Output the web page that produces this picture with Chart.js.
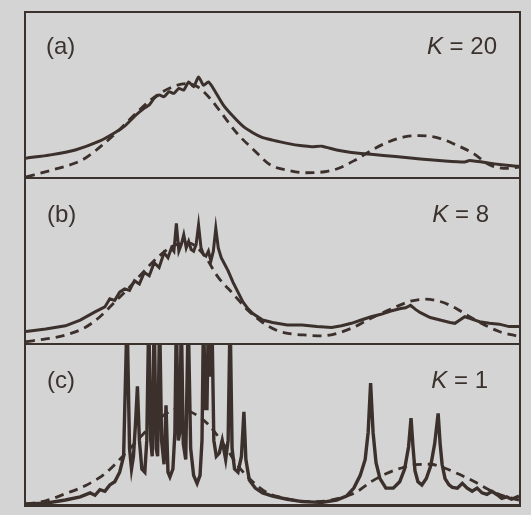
<!DOCTYPE html>
<html>
<head>
<meta charset="utf-8">
<script src="https://cdn.jsdelivr.net/npm/chart.js@4.4.1/dist/chart.umd.min.js"></script>
<style>
  html, body { margin: 0; padding: 0; background: #d4d4d4; }
  #wrap { position: relative; width: 531px; height: 515px; background: #d4d4d4; overflow: hidden; }
  #frame { position: absolute; left: 24px; top: 11px; width: 497px; height: 496px; box-sizing: border-box;
           border: 2px solid #3b322e; border-bottom-width: 3px; }
  .panel { position: absolute; left: 0; width: 493px; }
  .panel canvas { display: block; }
  #pa { top: 0; height: 164px; border-bottom: 2px solid #3b322e; }
  #pb { top: 166px; height: 164px; border-bottom: 2px solid #3b322e; }
  #pc { top: 332px; height: 159px; }
  .lab { position: absolute; font-family: "Liberation Sans", Arial, sans-serif; font-size: 24px; color: #3b322e; line-height: 1; white-space: pre; }
  .lab i { font-style: italic; }
</style>
</head>
<body>
<div id="wrap">
  <div id="frame">
    <div class="panel" id="pa"><canvas id="ca" width="493" height="164"></canvas></div>
    <div class="panel" id="pb"><canvas id="cb" width="493" height="164"></canvas></div>
    <div class="panel" id="pc"><canvas id="cc" width="493" height="159"></canvas></div>
  </div>
  <div class="lab" style="left:46px; top:34px;">(a)</div>
  <div class="lab" style="right:34px; top:34px;"><i>K</i> = 20</div>
  <div class="lab" style="left:47px; top:202px;">(b)</div>
  <div class="lab" style="right:42px; top:202px;"><i>K</i> = 8</div>
  <div class="lab" style="left:47px; top:368px;">(c)</div>
  <div class="lab" style="right:43px; top:368px;"><i>K</i> = 1</div>
</div>
<script>
// Panel labels
const panelLabels = ["(a)", "(b)", "(c)"];
const kLabels = ["K = 20", "K = 8", "K = 1"];

// Panel (a) K = 20 : solid (exact) and dashed (approximation)
const aSolidX = [0,5,10,15,18,20,22,24,25,26,27,28,29,30,31,32,33,34,35,36,37,38,40,42,44,46,48,50,53,56,58,60,63,66,70,75,80,85,89,90,95,98,100];
const aSolidY = [11.5,13.5,16.5,22,27,31,37,42,44,48,50,49,52,51,54,53,58,55,61,56,58,54,44,37,31,27,24,22.5,20.5,19,18.5,18.8,16.5,15,13.8,12.5,11,9.8,9.2,10,8,7,6.5];
const aDashX = [0,5,10,12,15.5,19,22,25.7,29,32.6,34.8,37.3,39.4,42.8,46.2,49.6,53,56.5,60.6,63.3,66.8,70.2,73.6,77,79.8,83.9,87.3,90.7,94.1,97.6,100];
const aDashY = [0,4,8.5,11.4,19.5,29,38,48,54,57,55,48,40,26.7,16.5,7.3,4.2,2.6,3.2,5.2,10.4,16.5,21.5,24.6,25.2,23.6,19.5,14.4,7.3,5.2,6];

// Panel (b) K = 8
const bSolidX = [0,4,8,11,14,16,17,18,19,20,21,22,23,24,25,26,27,28,28.8,29.5,30,30.5,31,31.5,32,32.5,33,33.5,34,34.5,35,35.5,36,36.5,37,37.5,38,38.5,39,39.6,40.3,41,42,43,44,45,46,48,50,53,56,59,62,64,66,68,70,72,74,76,77,78,79,80,81,82,84,86,87,88,89,90,92,94,96,98,100];
const bSolidY = [7,8.5,10.5,14,19,22,27,26,31,33,32,38,36,43,41,49,46,55,52,58,56,73,56,60,66,58,62,57,56,60,72,58,54,53,56,50,56,70,58,52,48,44,37,31,25,21,18,14,12.5,11,11,10,9.5,10.5,12,14,16,17.5,19.5,21,21.5,23,20.5,18.5,17,15.5,14,12.5,12,14,16,15,13,12,11.5,10,10];
const bDashX = [0,4,8,12,15,18,21,24,27,30,33,36,39,42,45,48,51,54,57,60,63,66,69,72,75,78,81,84,87,90,93,96,100];
const bDashY = [0.8,2.5,4.8,9.5,16,25,34,44,53,59.5,61,54,40,30,20,12.5,7.5,5.5,4.8,4.3,5.8,9,13.5,18,22,25.5,26.7,25.3,21.5,16,11,7,4];

// Panel (c) K = 1 (values above 100 run off the top of the panel)
const cSolidX = [0,4,8,11,13,14,15,16,17,18,19,19.8,20.5,21,21.4,21.8,22.2,22.6,23,23.5,24.1,24.5,24.9,25.3,25.6,26,26.4,26.7,27.1,27.5,28,28.4,28.8,29.2,29.8,30.2,30.5,30.9,31.2,31.5,31.9,32.4,32.9,33.4,34,34.7,35.3,35.7,36,36.4,36.7,37,37.3,37.7,38.1,38.6,39.2,39.8,40.5,41,41.4,41.8,42.3,43,43.7,44.2,44.6,45.3,46.5,48,50,53,56,60,63,65,66.5,67.8,68.8,69.4,69.9,70.4,71,71.8,73,74.5,75.8,76.8,77.6,78.1,78.5,78.9,79.5,80.3,81.2,82.1,82.9,83.6,84,84.4,85,85.8,86.5,87.5,88.5,89.5,90.5,91.5,92.5,93.5,94.5,95.5,96.5,97.5,98.5,100];
const cSolidY = [0,0.5,2.5,4.5,7,5.5,9,8,12,14,20,30,120,35,22,30,50,74,40,22,20,40,120,40,30,120,35,30,120,40,25,62,20,17,22,45,120,40,45,120,38,28,120,35,18,13,18,40,120,60,60,120,80,120,40,30,32,40,28,40,120,35,22,20,30,58,28,15,10,7,5,3,1.5,1,2.5,5,10,18,28,45,76,45,26,16,10,10,14,22,36,54,36,21,14,12,16,24,38,57,38,25,16,12,10.5,10,13,10,8,10,7,6,8,6,3.5,4.5,3,5];
const cDashX = [0,4,8,12,16,19,22,25,28,31,34,37,40,43,46,49,52,55,58,61,64,67,70,73,76,79,82,85,88,91,94,97,100];
const cDashY = [0,2,6.5,11.5,19,28,38,48,56,60,57,50,38,24,14,7,4,2,1.5,2,4,7.5,14,19,22.5,24.8,25,22.5,18.5,14,8.8,5,2.5];

const ink = "#3b302c";
const pts = (xs, ys) => xs.map((x, i) => ({ x: x, y: ys[i] }));

function makePanel(id, sx, sy, dx, dy, solidTension, solidWidth) {
  new Chart(document.getElementById(id), {
    type: "line",
    data: {
      datasets: [
        { data: pts(sx, sy), borderColor: ink, borderWidth: solidWidth, pointRadius: 0, tension: solidTension, fill: false },
        { data: pts(dx, dy), borderColor: ink, borderWidth: 2.8, borderDash: [9, 6], pointRadius: 0, cubicInterpolationMode: "monotone", fill: false }
      ]
    },
    options: {
      responsive: false,
      animation: false,
      events: [],
      layout: { padding: 0 },
      scales: {
        x: { type: "linear", min: 0, max: 100, display: false },
        y: { min: 0, max: 100, display: false }
      },
      plugins: { legend: { display: false }, tooltip: { enabled: false }, title: { display: false } }
    }
  });
}

makePanel("ca", aSolidX, aSolidY, aDashX, aDashY, 0.2, 3);
makePanel("cb", bSolidX, bSolidY, bDashX, bDashY, 0, 3);
makePanel("cc", cSolidX, cSolidY, cDashX, cDashY, 0, 3.4);
</script>
</body>
</html>
